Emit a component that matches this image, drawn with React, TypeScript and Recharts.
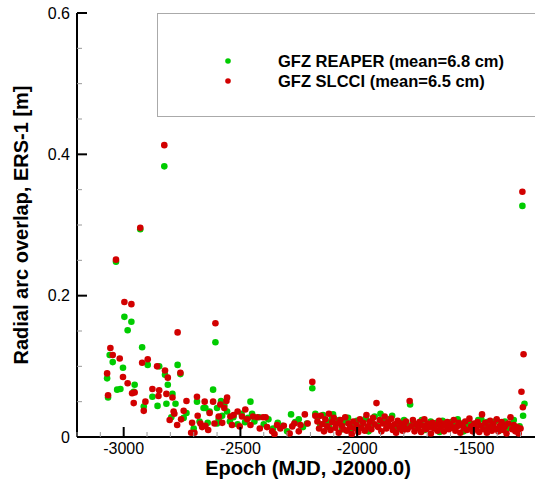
import React from "react";
import { ScatterChart, Scatter, XAxis, YAxis, Legend, Label } from "recharts";

// Epoch (MJD, J2000.0) vs radial arc overlap [m]
const reaperPoints: [number, number][] = [
    [-2826, 0.383], [-2929, 0.294], [-3033, 0.248], [-2997, 0.170], [-2983, 0.151], [-2967, 0.163],
    [-2607, 0.134], [-3060, 0.116], [-3047, 0.106], [-3003, 0.098], [-2921, 0.127], [-2897, 0.102],
    [-2848, 0.100], [-2823, 0.088], [-2811, 0.074], [-2769, 0.102], [-2757, 0.089], [-3071, 0.083],
    [-3067, 0.056], [-3028, 0.067], [-3014, 0.068], [-2953, 0.074], [-2957, 0.064], [-2914, 0.043],
    [-2877, 0.057], [-2855, 0.044], [-2817, 0.047], [-2791, 0.061], [-2796, 0.028], [-2778, 0.047],
    [-2743, 0.027], [-2731, 0.034], [-2700, 0.012], [-2686, 0.050], [-2675, 0.022], [-2658, 0.041],
    [-2650, 0.041], [-2640, 0.020], [-2632, 0.036], [-2617, 0.067], [-2600, 0.041], [-2600, 0.019],
    [-2593, 0.025], [-2583, 0.051], [-2578, 0.030], [-2569, 0.045], [-2557, 0.036], [-2545, 0.022],
    [-2530, 0.028], [-2512, 0.018], [-2495, 0.033], [-2480, 0.021], [-2467, 0.027], [-2457, 0.050],
    [-2450, 0.033], [-2440, 0.022], [-2420, 0.028], [-2400, 0.018], [-2380, 0.025], [-2360, 0.012],
    [-2340, 0.020], [-2320, 0.016], [-2300, 0.008], [-2283, 0.032], [-2265, 0.021], [-2250, 0.025],
    [-2232, 0.014], [-2215, 0.019], [-2192, 0.069], [-2179, 0.033], [-2170, 0.028], [-2158, 0.018],
    [-2146, 0.031], [-2133, 0.022], [-2121, 0.014], [-2108, 0.026], [-2103, 0.032], [-2090, 0.019],
    [-2077, 0.024], [-2064, 0.011], [-2052, 0.021], [-2039, 0.027], [-2027, 0.009], [-2014, 0.017],
    [-2001, 0.023], [-1989, 0.013], [-1976, 0.019], [-1963, 0.026], [-1951, 0.008], [-1938, 0.020],
    [-1925, 0.029], [-1913, 0.016], [-1900, 0.033], [-1888, 0.022], [-1875, 0.018], [-1862, 0.025],
    [-1850, 0.030], [-1837, 0.014], [-1824, 0.020], [-1812, 0.011], [-1799, 0.024], [-1786, 0.017],
    [-1773, 0.046], [-1761, 0.021], [-1748, 0.013], [-1735, 0.019], [-1723, 0.024], [-1710, 0.010],
    [-1697, 0.018], [-1685, 0.022], [-1672, 0.015], [-1659, 0.020], [-1647, 0.007], [-1634, 0.023],
    [-1621, 0.017], [-1609, 0.012], [-1596, 0.021], [-1583, 0.016], [-1569, 0.025], [-1557, 0.019],
    [-1544, 0.008], [-1532, 0.017], [-1519, 0.020], [-1506, 0.013], [-1494, 0.018], [-1481, 0.024],
    [-1468, 0.025], [-1456, 0.014], [-1443, 0.021], [-1430, 0.011], [-1418, 0.019], [-1405, 0.023],
    [-1392, 0.009], [-1380, 0.016], [-1367, 0.022], [-1354, 0.013], [-1341, 0.018], [-1329, 0.024],
    [-1316, 0.010], [-1304, 0.015], [-1289, 0.030], [-1283, 0.047], [-1292, 0.327],
];

const slcciPoints: [number, number][] = [
    [-2826, 0.413], [-2929, 0.296], [-3033, 0.251], [-2997, 0.191], [-2967, 0.188], [-2607, 0.161],
    [-2769, 0.148], [-3057, 0.126], [-3047, 0.116], [-3017, 0.111], [-2921, 0.105], [-2897, 0.110],
    [-2857, 0.100], [-2823, 0.094], [-2811, 0.084], [-2757, 0.091], [-3071, 0.090], [-3003, 0.085],
    [-2983, 0.076], [-3067, 0.059], [-2964, 0.062], [-2953, 0.063], [-2957, 0.048], [-2914, 0.037],
    [-2907, 0.050], [-2877, 0.068], [-2848, 0.066], [-2851, 0.058], [-2817, 0.061], [-2791, 0.056],
    [-2786, 0.036], [-2803, 0.024], [-2771, 0.017], [-2783, 0.033], [-2731, 0.051], [-2743, 0.037],
    [-2754, 0.025], [-2707, 0.020], [-2711, 0.006], [-2697, 0.006], [-2686, 0.057], [-2683, 0.030],
    [-2671, 0.019], [-2664, 0.014], [-2653, 0.050], [-2650, 0.016], [-2638, 0.010], [-2632, 0.034],
    [-2617, 0.050], [-2611, 0.019], [-2593, 0.029], [-2586, 0.046], [-2578, 0.020], [-2569, 0.041],
    [-2557, 0.056], [-2560, 0.051], [-2543, 0.029], [-2536, 0.017], [-2529, 0.031], [-2512, 0.036],
    [-2503, 0.015], [-2493, 0.029], [-2479, 0.039], [-2471, 0.025], [-2457, 0.017], [-2446, 0.029],
    [-2428, 0.028], [-2417, 0.012], [-2403, 0.028], [-2392, 0.028], [-2386, 0.014], [-2364, 0.008],
    [-2354, 0.004], [-2343, 0.017], [-2329, 0.012], [-2314, 0.016], [-2289, 0.005], [-2278, 0.015],
    [-2269, 0.019], [-2250, 0.008], [-2243, 0.017], [-2224, 0.032], [-2212, 0.019], [-2192, 0.078],
    [-2179, 0.030], [-2170, 0.022], [-2163, 0.012], [-2156, 0.030], [-2149, 0.018], [-2142, 0.008],
    [-2136, 0.025], [-2128, 0.015], [-2121, 0.033], [-2114, 0.010], [-2107, 0.021], [-2100, 0.027],
    [-2093, 0.013], [-2086, 0.019], [-2079, 0.006], [-2072, 0.024], [-2065, 0.016], [-2058, 0.011],
    [-2051, 0.028], [-2044, 0.009], [-2037, 0.019], [-2030, 0.014], [-2023, 0.004], [-2016, 0.022],
    [-2009, 0.012], [-2002, 0.017], [-1995, 0.007], [-1988, 0.025], [-1981, 0.013], [-1974, 0.020],
    [-1967, 0.009], [-1960, 0.031], [-1953, 0.015], [-1946, 0.022], [-1939, 0.011], [-1932, 0.027],
    [-1925, 0.018], [-1917, 0.048], [-1910, 0.014], [-1903, 0.024], [-1896, 0.008], [-1889, 0.019],
    [-1882, 0.029], [-1875, 0.012], [-1868, 0.021], [-1861, 0.016], [-1854, 0.026], [-1847, 0.010],
    [-1840, 0.018], [-1833, 0.006], [-1826, 0.023], [-1819, 0.013], [-1812, 0.019], [-1805, 0.009],
    [-1798, 0.017], [-1791, 0.022], [-1784, 0.011], [-1775, 0.051], [-1768, 0.015], [-1761, 0.024],
    [-1754, 0.008], [-1747, 0.018], [-1740, 0.013], [-1733, 0.021], [-1726, 0.007], [-1719, 0.016],
    [-1712, 0.025], [-1705, 0.011], [-1698, 0.019], [-1691, 0.014], [-1684, 0.005], [-1677, 0.020],
    [-1670, 0.012], [-1663, 0.017], [-1656, 0.009], [-1649, 0.023], [-1642, 0.014], [-1635, 0.019],
    [-1628, 0.008], [-1621, 0.016], [-1614, 0.021], [-1607, 0.011], [-1600, 0.018], [-1593, 0.013],
    [-1586, 0.024], [-1579, 0.009], [-1572, 0.015], [-1565, 0.020], [-1558, 0.006], [-1551, 0.017],
    [-1544, 0.013], [-1537, 0.022], [-1530, 0.010], [-1519, 0.026], [-1512, 0.015], [-1505, 0.008],
    [-1498, 0.019], [-1491, 0.012], [-1484, 0.021], [-1477, 0.007], [-1470, 0.016], [-1465, 0.032],
    [-1458, 0.011], [-1451, 0.020], [-1444, 0.006], [-1437, 0.014], [-1430, 0.023], [-1423, 0.009],
    [-1416, 0.018], [-1409, 0.012], [-1402, 0.025], [-1395, 0.008], [-1388, 0.016], [-1381, 0.021],
    [-1374, 0.010], [-1367, 0.015], [-1360, 0.005], [-1353, 0.019], [-1343, 0.028], [-1336, 0.011],
    [-1329, 0.017], [-1322, 0.008], [-1315, 0.014], [-1308, 0.005], [-1300, 0.012], [-1296, 0.064],
    [-1290, 0.042], [-1287, 0.117], [-1292, 0.347],
];

const xTicks = [
    -3200, -3100, -3000, -2900, -2800, -2700, -2600, -2500, -2400, -2300,
    -2200, -2100, -2000, -1900, -1800, -1700, -1600, -1500, -1400, -1300,
];
const yTicks = [0, 0.05, 0.1, 0.15, 0.2, 0.25, 0.3, 0.35, 0.4, 0.45, 0.5, 0.55, 0.6];

const seriesNames = ["GFZ REAPER (mean=6.8 cm)", "GFZ SLCCI (mean=6.5 cm)"];
const GREEN = "#00cc00";
const RED = "#d20000";
const FONT = "'Liberation Sans', Arial, Helvetica, sans-serif";

const toRows = (pts: [number, number][]) => pts.map(([x, y]) => ({ x, y }));

const dot = (color: string) => (p: any) => <circle cx={p.cx} cy={p.cy} r={3.3} fill={color} />;

const XTick = ({ x, y, payload }: any) => {
    const major = payload.value % 500 === 0;
    return (
        <g>
            <line x1={x} x2={x} y1={y} y2={y - (major ? 10 : 5)} stroke={major ? "#000" : "#999"} strokeWidth={major ? 2 : 1} />
            {major && (
                <text x={x} y={y + 17} textAnchor="middle" fontSize={16} fontFamily={FONT} fill="#000">
                    {payload.value}
                </text>
            )}
        </g>
    );
};

const YTick = ({ x, y, payload }: any) => {
    const v = payload.value;
    const major = Math.abs(v * 5 - Math.round(v * 5)) < 1e-6;
    return (
        <g>
            <line x1={x} x2={x + (major ? 10 : 5)} y1={y} y2={y} stroke={major ? "#000" : "#999"} strokeWidth={major ? 2 : 1} />
            {major && (
                <text x={x - 7} y={y} dy="0.35em" textAnchor="end" fontSize={16} fontFamily={FONT} fill="#000">
                    {v === 0 ? "0" : v.toFixed(1)}
                </text>
            )}
        </g>
    );
};

const LegendBox = () => (
    <div style={{ width: 390, height: 104, border: "1.5px solid #aaa", boxSizing: "border-box", fontFamily: FONT, position: "relative" }}>
        {seriesNames.map((name, i) => (
            <div key={name} style={{ position: "absolute", left: 0, top: 37 + i * 20, height: 20, display: "flex", alignItems: "center" }}>
                <svg width={120} height={20}>
                    <circle cx={70} cy={10} r={2.8} fill={i === 0 ? GREEN : RED} />
                </svg>
                <span style={{ fontSize: 16.5, fontWeight: 700, color: "#000", whiteSpace: "nowrap" }}>{name}</span>
            </div>
        ))}
    </div>
);

export default function App() {
    return (
        <div style={{ position: "fixed", left: 0, top: 0, width: 535, height: 479, overflow: "hidden", background: "#fff" }}>
            <ScatterChart width={535} height={479} margin={{ top: 13, right: 0, left: 0, bottom: 0 }}>
                <XAxis
                    type="number"
                    dataKey="x"
                    domain={[-3200, -1238]}
                    ticks={xTicks}
                    interval={0}
                    tick={<XTick />}
                    tickLine={false}
                    tickSize={0}
                    tickMargin={0}
                    height={42}
                    axisLine={{ stroke: "#000", strokeWidth: 2 }}
                    allowDataOverflow
                >
                    <Label
                        content={({ viewBox }: any) => (
                            <text
                                x={viewBox.x + viewBox.width / 2 + 2}
                                y={viewBox.y + 38}
                                textAnchor="middle"
                                fontSize={20}
                                fontWeight={700}
                                fontFamily={FONT}
                                fill="#000"
                            >
                                Epoch (MJD, J2000.0)
                            </text>
                        )}
                    />
                </XAxis>
                <YAxis
                    type="number"
                    dataKey="y"
                    domain={[0, 0.6]}
                    ticks={yTicks}
                    interval={0}
                    tick={<YTick />}
                    tickLine={false}
                    tickSize={0}
                    tickMargin={0}
                    width={77}
                    axisLine={{ stroke: "#000", strokeWidth: 2 }}
                    allowDataOverflow
                >
                    <Label
                        content={({ viewBox }: any) => {
                            const cx = viewBox.x + 21;
                            const cy = viewBox.y + viewBox.height / 2;
                            return (
                                <text
                                    x={cx}
                                    y={cy}
                                    transform={`rotate(-90 ${cx} ${cy})`}
                                    textAnchor="middle"
                                    dominantBaseline="central"
                                    fontSize={20}
                                    fontWeight={700}
                                    fontFamily={FONT}
                                    fill="#000"
                                >
                                    Radial arc overlap, ERS-1 [m]
                                </text>
                            );
                        }}
                    />
                </YAxis>
                <Legend
                    layout="horizontal"
                    verticalAlign="middle"
                    align="center"
                    content={<LegendBox />}
                    wrapperStyle={{ left: 157, top: 13, width: 390 }}
                />
                <Scatter name={seriesNames[0]} data={toRows(reaperPoints)} fill={GREEN} shape={dot(GREEN)} isAnimationActive={false} />
                <Scatter name={seriesNames[1]} data={toRows(slcciPoints)} fill={RED} shape={dot(RED)} isAnimationActive={false} />
            </ScatterChart>
        </div>
    );
}
